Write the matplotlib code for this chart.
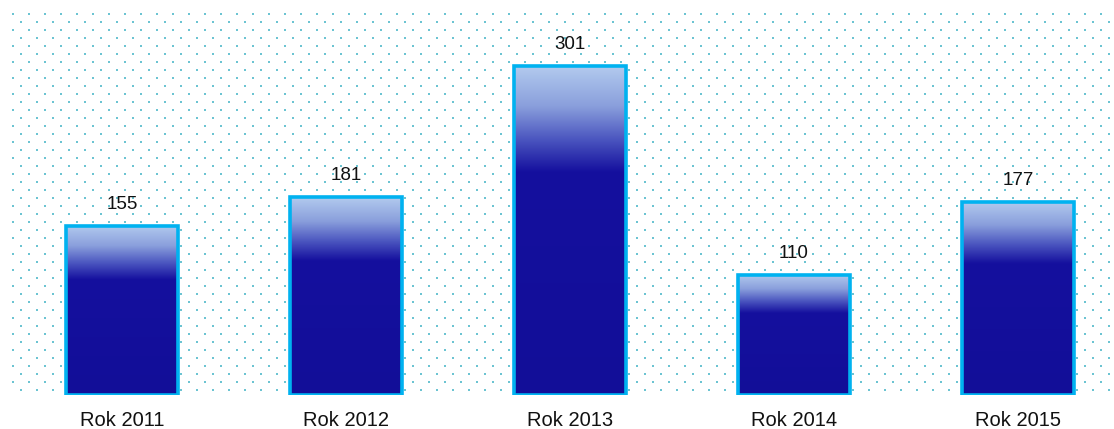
import numpy as np
import matplotlib
matplotlib.use("Agg")
import matplotlib.pyplot as plt
from matplotlib.colors import LinearSegmentedColormap

categories = ["Rok 2011", "Rok 2012", "Rok 2013", "Rok 2014", "Rok 2015"]
values = [155, 181, 301, 110, 177]

W, H, DPI = 1114, 429, 100
fig = plt.figure(figsize=(W / DPI, H / DPI), dpi=DPI)

# background dotted pattern (pixel coordinates)
bg = fig.add_axes([0, 0, 1, 1])
bg.set_xlim(0, W)
bg.set_ylim(H, 0)
bg.axis("off")
xs, ys = [], []
for i, yy in enumerate(np.arange(13.5, 393, 8)):
    start = 12.5 if i % 2 == 0 else 20.5
    for xx in np.arange(start, W, 16):
        xs.append(xx)
        ys.append(yy)
bg.scatter(xs, ys, s=2.4, color="#6cc4d2", marker="s", linewidths=0, zorder=0)

# main axes
base_px = 395
ax = fig.add_axes([0, (H - base_px) / H, 1, base_px / H])
ax.patch.set_alpha(0)
x = np.arange(len(categories))
px_per_unit = 1.093

cmap = LinearSegmentedColormap.from_list(
    "barg", [(0.0, "#b2caee"), (0.12, "#8a9fdc"), (0.22, "#4c57c0"),
             (0.32, "#15109e"), (1.0, "#120e98")])
width = 0.5
bars = ax.bar(x, values, width=width, color="none", edgecolor="#00b2f0",
              linewidth=2.6, zorder=3)
grad = np.linspace(0, 1, 256).reshape(-1, 1)
for b, v in zip(bars, values):
    x0 = b.get_x()
    ax.imshow(grad, cmap=cmap, aspect="auto",
              extent=(x0, x0 + width, 0, v), origin="upper", zorder=2,
              interpolation="bilinear")
    ax.text(x0 + width / 2, v + 23.5 / px_per_unit, str(v), ha="center",
            va="center_baseline", fontsize=13.5, color="#111111",
            family="Liberation Sans")
ax.set_xlim(-122 / 224, (W - 122) / 224)
ax.set_ylim(0, base_px / px_per_unit)
ax.axis("off")

for xi, c in zip(x, categories):
    ax.text(xi, -24 / px_per_unit, c, ha="center", va="center_baseline",
            fontsize=14.5, color="#111111", family="Liberation Sans")

fig.savefig("out.png", dpi=DPI)
